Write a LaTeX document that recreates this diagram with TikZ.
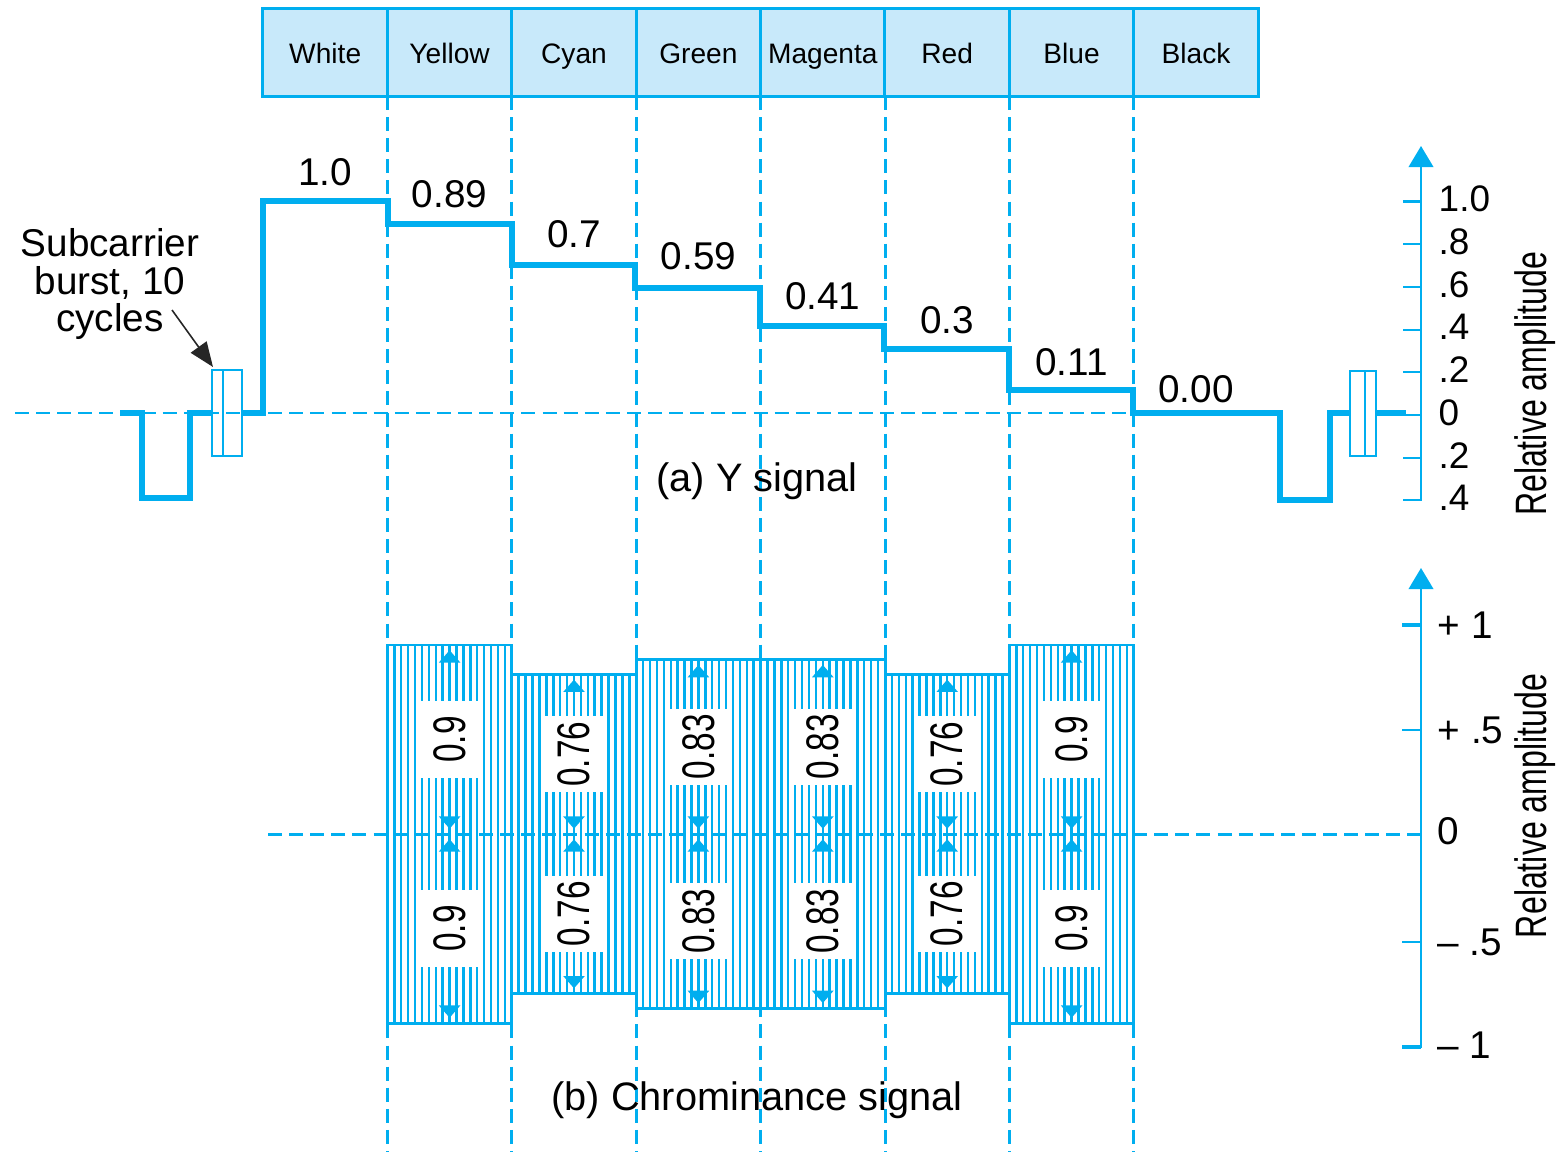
\documentclass[tikz,border=0pt]{standalone}
\usepackage{fontspec}
\setmainfont{Liberation Sans}
\usetikzlibrary{arrows.meta}
\definecolor{sigblue}{HTML}{00AEEF}
\definecolor{hdrfill}{HTML}{C8E9FA}
\newcommand{\narrowtext}[1]{\scalebox{0.73}[1]{#1}}
\tikzset{
  sig/.style={draw=sigblue, line width=1.45pt},
  guide/.style={draw=sigblue, line width=0.85pt, dash pattern=on 4pt off 2pt},
  hatch/.style={draw=sigblue, line width=0.7pt},
  colbox/.style={draw=sigblue, fill=hdrfill, line width=0.85pt,
    minimum width=1.244cm, minimum height=0.87cm, inner sep=0pt, outer sep=0pt,
    text height=6pt, text depth=0pt, font=\fontsize{8}{9}\selectfont},
  val/.style={inner sep=0pt, font=\fontsize{11}{13}\selectfont},
  axlab/.style={anchor=west, inner sep=0pt, font=\fontsize{10.5}{12}\selectfont},
  chlab/.style={rotate=90, fill=white, inner sep=0pt, minimum width=0.76cm,
    minimum height=0.58cm, font=\fontsize{13}{13}\selectfont},
  caption/.style={inner sep=0pt, font=\fontsize{11.3}{13}\selectfont},
  amp/.style={{Triangle[width=6pt,length=3.5pt]}-{Triangle[width=6pt,length=3.5pt]},
    draw=sigblue, fill=sigblue, line width=0.6pt, shorten <=1.5pt, shorten >=1.5pt},
  axis/.style={draw=sigblue, line width=0.6pt, -{Triangle[width=7pt,length=6pt]}},
}

\begin{document}
\begin{tikzpicture}[x=0.01cm, y=-0.01cm]
  \useasboundingbox (0,0) rectangle (1561,1152);
  \coordinate (bottom) at (0,1152);

  % colour bars
  \foreach \colname [count=\i] in {White,Yellow,Cyan,Green,Magenta,Red,Blue,Black}
    \node[colbox] (bar\i) at ({263+124.4*(\i-0.5)},52.5) {\colname};
  \foreach \i in {1,...,7}
    \draw[guide] (bar\i.south east) -- (bar\i.south east |- bottom);

  % (a) Y signal
  \draw[guide] (15,413) -- (1133,413);
  \draw[sig] (120,413) -- (142,413) -- (142,498) -- (190,498) -- (190,413) -- (212,413)
    (242,413) -- (263,413) -- (263,201) -- (388,201) -- (388,224) -- (512,224)
    -- (512,265) -- (635,265) -- (635,288) -- (760,288) -- (760,326) -- (884,326)
    -- (884,349) -- (1009,349) -- (1009,390) -- (1133,390) -- (1133,413)
    -- (1280,413) -- (1280,500) -- (1330,500) -- (1330,413) -- (1350,413)
    (1376,413) -- (1406,413);
  \foreach \v/\y [count=\i] in {1.0/172,0.89/194,0.7/234,0.59/256,0.41/296,0.3/320,0.11/362,0.00/389}
    \node[val] (lum\i) at ({263+124.4*(\i-0.5)},\y) {\v};

  % burst
  \draw[sigblue, line width=0.6pt] (212,370) rectangle (242,456) (223,370) -- (223,456);
  \draw[sigblue, line width=0.6pt] (1350,371) rectangle (1376,456) (1365,371) -- (1365,456);
  \node[align=center, inner sep=0pt, font=\fontsize{11}{10.8}\selectfont] (burst) at (110,284)
    {Subcarrier\\burst, 10\\cycles};
  \coordinate (burstfrom) at (172,310);
  \coordinate (burstto) at (213,367);
  \draw[black!85, line width=0.45pt, -{Triangle[width=5.5pt,length=7pt]}] (burstfrom) -- (burstto);

  \node[caption] (capY) at (757,481) {(a) Y signal};

  % Y axis
  \draw[axis] (1421,501) -- (1421,146);
  \foreach \l [count=\k] in {1.0,.8,.6,.4,.2,0,.2,.4} {
    \draw[sigblue, line width=0.6pt] (1403,{201.5+42.7*(\k-1)}) -- (1421,{201.5+42.7*(\k-1)});
    \node[axlab] (ya\k) at (1438,{199+42.7*(\k-1)}) {\l};
  }
  \node[rotate=90, inner sep=0pt, font=\fontsize{12.5}{13}\selectfont] (ampY) at (1535,384)
    {\narrowtext{Relative amplitude}};

  % (b) chrominance
  \foreach \v [count=\i] in {0.9,0.76,0.83,0.83,0.76,0.9} {
    \pgfmathsetmacro\xl{263+124.4*\i}
    \pgfmathsetmacro\yt{834-210*\v}
    \pgfmathsetmacro\yb{834+210*\v}
    \foreach \k in {1,...,17}
      \draw[hatch] ({\xl+6.91*\k},\yt) -- ({\xl+6.91*\k},\yb);
    \draw[sigblue, line width=0.85pt] (\xl,\yt) rectangle ({\xl+124.4},\yb);
  }
  \draw[guide] (268,834) -- (1421,834);
  \foreach \v [count=\i] in {0.9,0.76,0.83,0.83,0.76,0.9} {
    \pgfmathsetmacro\xc{263+124.4*\i+62.2}
    \pgfmathsetmacro\yt{834-210*\v}
    \pgfmathsetmacro\yb{834+210*\v}
    \draw[amp] (\xc,834) -- (\xc,\yt);
    \draw[amp] (\xc,834) -- (\xc,\yb);
    \node[chlab] (cu\i) at (\xc,{834-105*\v}) {\narrowtext{\v}};
    \node[chlab] (cl\i) at (\xc,{834+105*\v}) {\narrowtext{\v}};
  }
  \node[caption] (capC) at (757,1100) {(b) Chrominance signal};

  % chroma axis
  \draw[axis] (1421,1048) -- (1421,568);
  \foreach \y/\w in {625/1.2pt,730/0.6pt,942/0.6pt,1047/1.2pt}
    \draw[sigblue, line width=\w] (1402,\y) -- (1421,\y);
  \foreach \y/\l [count=\k] in {625/{+ 1},730/{+ .5},831/0,942/{-- .5},1045/{-- 1}}
    \node[axlab, font=\fontsize{11}{12}\selectfont] (ca\k) at (1437,\y) {\l};
  \node[rotate=90, inner sep=0pt, font=\fontsize{12.5}{13}\selectfont] (ampC) at (1535,806)
    {\narrowtext{Relative amplitude}};
\end{tikzpicture}
\end{document}
